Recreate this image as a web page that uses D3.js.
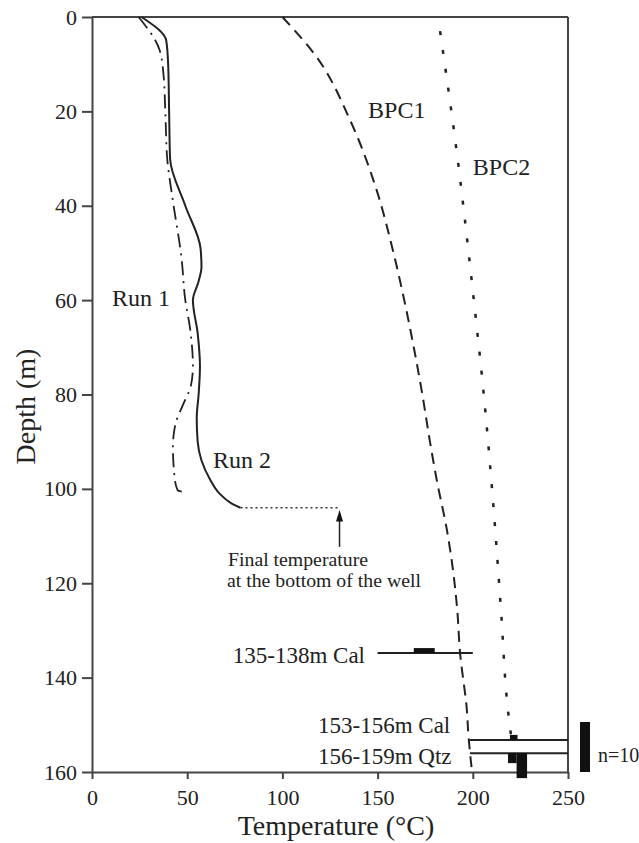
<!DOCTYPE html>
<html>
<head>
<meta charset="utf-8">
<script src="https://cdn.jsdelivr.net/npm/d3@7"></script>
<style>
  body { margin: 0; background: #fff; }
  text { font-family: "Liberation Serif", "Times New Roman", serif; fill: #222; }
</style>
</head>
<body>
<script>
const width = 639;
const height = 843;

// axis ticks
const xTicks = [0, 50, 100, 150, 200, 250];
const yTicks = [0, 20, 40, 60, 80, 100, 120, 140, 160];

// Run 1 (dash-dot) and Run 2 (solid) well logs
const run1Depth = [0, 7, 12, 20, 30, 39, 51, 60, 66, 74, 78, 82, 86, 91, 98, 100.3, 100.7];
const run1Temp = [24.5, 35.5, 37.5, 38.5, 39.5, 42.5, 47, 49, 51.5, 53, 52, 48, 44, 42.5, 43.5, 45, 49];

const run2Depth = [0, 5, 10, 20, 30, 40, 49, 53, 56, 60, 67, 74, 80, 85, 90, 94, 98, 101, 103, 104];
const run2Temp = [26, 39, 40, 40.5, 41, 49, 57, 57.5, 56, 53, 55.5, 56.7, 56, 55, 55.5, 57.5, 62, 67, 73, 78];

// boiling point curves
const bpc1Depth = [0, 8.5, 21.8, 36.7, 49.4, 60, 70, 80, 90, 98, 108.7, 125, 134.7, 147.5, 151, 160];
const bpc1Temp = [100, 118, 135.5, 149.5, 158, 164, 169, 173.5, 177.5, 181, 186.4, 191.7, 193.3, 197, 197.5, 199.6];

const bpc2Depth = [3, 29, 58, 81, 102, 125, 147, 152];
const bpc2Temp = [182.8, 191.7, 200, 206, 210.5, 214.7, 218.5, 220];

// final bottom temperature
const finalDepth = 104;
const finalTemp = 130;

// fluid inclusion histograms
const histLabels = ["135-138m Cal", "153-156m Cal", "156-159m Qtz"];
const histDepths = [134.8, 153.2, 156];
const histRanges = [[150, 200], [198.5, 250], [198.5, 250]];
const histBins = [
  [[169, 180]],
  [[219.5, 223.5]],
  [[218.5, 223], [223, 228.5]]
];
const histCounts = [[1], [1], [2, 5]];
const histDir = [1, 1, -1]; // bars drawn up or hanging down

const svg = d3.select("body").append("svg")
    .attr("width", width)
    .attr("height", height);

const x = d3.scaleLinear().domain([0, 250]).range([92, 568]);
const y = d3.scaleLinear().domain([0, 160]).range([17, 772]);
const n = d3.scaleLinear().domain([0, 10]).range([0, 50]);

// axes
const xAxis = svg.append("g")
    .attr("transform", `translate(0,${y(160)})`)
    .call(d3.axisBottom(x).tickValues(xTicks).tickSize(7).tickPadding(10).tickSizeOuter(0));
const yAxis = svg.append("g")
    .attr("transform", `translate(${x(0)},0)`)
    .call(d3.axisLeft(y).tickValues(yTicks).tickSize(10).tickPadding(5).tickSizeOuter(0));

[xAxis, yAxis].forEach(g => {
  g.selectAll("path, line").attr("stroke", "#444").attr("stroke-width", 2);
  g.selectAll("text")
      .style("font-family", "Liberation Serif")
      .style("font-size", "22px")
      .attr("fill", "#333");
});

// top and right frame
svg.append("line")
    .attr("x1", x(0)).attr("x2", x(250))
    .attr("y1", y(0)).attr("y2", y(0))
    .attr("stroke", "#444").attr("stroke-width", 2);
svg.append("line")
    .attr("x1", x(250)).attr("x2", x(250))
    .attr("y1", y(0)).attr("y2", y(160))
    .attr("stroke", "#444").attr("stroke-width", 2);

// axis titles
svg.append("text")
    .attr("x", (x(0) + x(250)) / 2 + 6)
    .attr("y", 835)
    .attr("text-anchor", "middle")
    .style("font-size", "28px")
    .text("Temperature (°C)");
svg.append("text")
    .attr("transform", `translate(35,${(y(0) + y(160)) / 2 + 12}) rotate(-90)`)
    .attr("text-anchor", "middle")
    .style("font-size", "28px")
    .text("Depth (m)");

const line = d3.line()
    .x(d => x(d[1]))
    .y(d => y(d[0]))
    .curve(d3.curveMonotoneY);

function drawCurve(depths, temps, dash, w) {
  svg.append("path")
      .datum(d3.zip(depths, temps))
      .attr("d", line)
      .attr("fill", "none")
      .attr("stroke", "#222")
      .attr("stroke-width", w)
      .attr("stroke-dasharray", dash);
}

drawCurve(bpc1Depth, bpc1Temp, "11,7", 2);
drawCurve(bpc2Depth, bpc2Temp, "4,15", 2.5);
drawCurve(run1Depth, run1Temp, "14,6,2,6", 1.8);
drawCurve(run2Depth, run2Temp, null, 2);

// dotted line to final temperature
svg.append("line")
    .attr("x1", x(run2Temp[run2Temp.length - 1])).attr("x2", x(finalTemp))
    .attr("y1", y(finalDepth)).attr("y2", y(finalDepth))
    .attr("stroke", "#333").attr("stroke-width", 1.5)
    .attr("stroke-dasharray", "2,3");

// arrow
svg.append("line")
    .attr("x1", x(finalTemp)).attr("x2", x(finalTemp))
    .attr("y1", y(112.3)).attr("y2", y(106))
    .attr("stroke", "#222").attr("stroke-width", 1.5);
svg.append("path")
    .attr("d", `M${x(finalTemp)},${y(104.5)} L${x(finalTemp) - 3.5},${y(106.9)} L${x(finalTemp) + 3.5},${y(106.9)} Z`)
    .attr("fill", "#111");

svg.append("text")
    .attr("x", 228).attr("y", 566)
    .style("font-size", "18px")
    .attr("textLength", 140)
    .attr("lengthAdjust", "spacingAndGlyphs")
    .text("Final temperature");
svg.append("text")
    .attr("x", 227).attr("y", 587)
    .style("font-size", "18px")
    .attr("textLength", 194)
    .attr("lengthAdjust", "spacingAndGlyphs")
    .text("at the bottom of the well");

// curve labels
const curveLabels = [
  { text: "BPC1", t: 145, d: 21.4 },
  { text: "BPC2", t: 200, d: 33.5 },
  { text: "Run 1", t: 10.5, d: 61.2 },
  { text: "Run 2", t: 63.5, d: 95.5 }
];
svg.selectAll(".clabel")
    .data(curveLabels)
    .enter()
    .append("text")
    .attr("class", "clabel")
    .attr("x", d => x(d.t))
    .attr("y", d => y(d.d))
    .style("font-size", "24px")
    .text(d => d.text);

// histograms
histDepths.forEach((dep, i) => {
  const by = y(dep);
  svg.append("line")
      .attr("x1", x(histRanges[i][0])).attr("x2", x(histRanges[i][1]))
      .attr("y1", by).attr("y2", by)
      .attr("stroke", "#222").attr("stroke-width", 2);
  svg.selectAll(null)
      .data(d3.zip(histBins[i], histCounts[i]))
      .enter()
      .append("rect")
      .attr("x", d => x(d[0][0]))
      .attr("width", d => x(d[0][1]) - x(d[0][0]))
      .attr("y", d => histDir[i] > 0 ? by - n(d[1]) : by)
      .attr("height", d => n(d[1]))
      .attr("fill", "#111");
});

svg.append("text")
    .attr("x", 365).attr("y", 663)
    .attr("text-anchor", "end")
    .style("font-size", "23px")
    .text(histLabels[0]);
svg.append("text")
    .attr("x", 318).attr("y", 733)
    .style("font-size", "23px")
    .text(histLabels[1]);
svg.append("text")
    .attr("x", 318).attr("y", 764)
    .style("font-size", "23px")
    .text(histLabels[2]);

// n=10 scale bar
svg.append("rect")
    .attr("x", 580)
    .attr("y", y(160) - n(10))
    .attr("width", 10)
    .attr("height", n(10))
    .attr("fill", "#111");
svg.append("text")
    .attr("x", 598).attr("y", 762)
    .style("font-size", "20px")
    .text("n=10");
</script>
</body>
</html>
